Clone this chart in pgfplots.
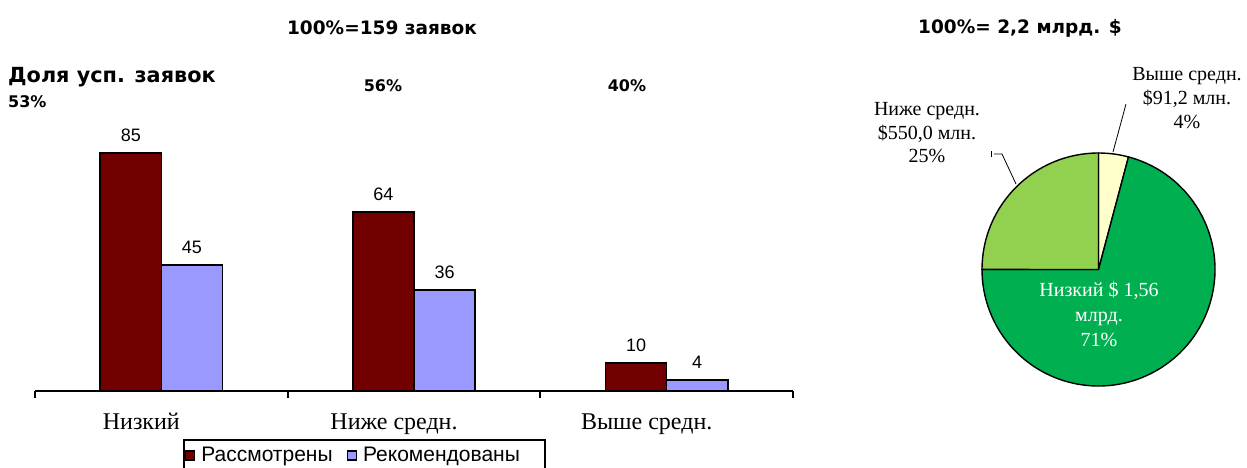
\documentclass[border=0pt]{standalone}
\usepackage{fontspec}
\setmainfont{Liberation Serif}
\newfontfamily\arial{Liberation Sans}
\newfontfamily\verd{DejaVu Sans}
\usepackage{pgfplots}
\pgfplotsset{compat=1.18}

\definecolor{barred}{HTML}{720000}
\definecolor{barblue}{HTML}{9999FF}
\definecolor{pielow}{HTML}{00B050}
\definecolor{piemid}{HTML}{92D050}
\definecolor{piehigh}{HTML}{FFFFCC}

\newcommand\fs[2]{\fontsize{#1}{#2}\selectfont}

% pie values, millions of dollars
\def\vLow{1560}
\def\vMid{550}
\def\vHigh{91.2}
\pgfmathsetmacro\vTotal{\vLow+\vMid+\vHigh}
\pgfmathsetmacro\aHigh{90-360*(\vHigh/\vTotal)}
\pgfmathsetmacro\aLow{\aHigh-360*(\vLow/\vTotal)}
\pgfmathsetmacro\aMid{\aLow-360*(\vMid/\vTotal)}

\begin{document}
\begin{tikzpicture}
\useasboundingbox (0pt,0pt) rectangle (1247pt,-467pt);
\clip (0pt,0pt) rectangle (1247pt,-467pt);

% bar chart: applications by group
\begin{axis}[
  at={(35pt,-391pt)}, anchor=south west,
  scale only axis, width=758pt, height=280pt,
  xmin=-0.5, xmax=2.5, ymin=0, ymax=100,
  axis x line*=bottom, axis y line=none,
  x axis line style={line width=2pt, -},
  xtick={0,1,2},
  xticklabels={Низкий, Ниже средн., Выше средн.},
  major tick length=0pt,
  xticklabel style={font=\fs{24pt}{28pt}, anchor=base, xshift=-20pt, yshift=-38pt},
  extra x ticks={-0.5,0.5,1.5,2.5}, extra x tick labels={},
  extra x tick style={major tick length=7pt, tick align=outside,
    tick style={line width=2pt, black}},
  ytick=\empty,
  ybar=0pt, bar width=0.242,
  /pgf/number format/assume math mode=true,
  nodes near coords,
  every node near coord/.append style={font=\arial\fs{18pt}{20pt}, text=black, yshift=7pt},
  legend columns=2,
  legend style={at={(0.195,-0.171)}, anchor=north west, draw=black,
    line width=2pt, font=\arial\fs{21pt}{22pt}, inner xsep=1pt, inner ysep=5.5pt,
    /tikz/every even column/.append style={column sep=12pt}},
  every axis plot post/.append style={
    legend image code/.code={\draw[#1, draw=black, line width=1.5pt] (0pt,-4.5pt) rectangle (9pt,4.5pt); \path (13pt,0pt);}},
]
\addplot[fill=barred, draw=black, line width=1.5pt] coordinates {(0,85) (1,64) (2,10)};
\addplot[fill=barblue, draw=black, line width=1.5pt] coordinates {(0,45) (1,36) (2,4)};
\legend{Рассмотрены, Рекомендованы\hspace*{22pt}\mbox{}}
\end{axis}

% pie chart: amount by group
\begin{axis}[
  at={(1098.5pt,-269.5pt)}, anchor=center,
  scale only axis, width=233pt, height=233pt,
  xmin=-1, xmax=1, ymin=-1, ymax=1,
  hide axis, clip=false,
]
\filldraw[fill=piehigh, draw=black, line width=1.4pt]
  (axis cs:0,0) -- (axis cs:0,1) arc[start angle=90, end angle=\aHigh, radius=116.5pt] -- cycle;
\filldraw[fill=pielow, draw=black, line width=1.4pt]
  (axis cs:0,0) -- (axis cs:{cos(\aHigh)},{sin(\aHigh)}) arc[start angle=\aHigh, end angle=\aLow, radius=116.5pt] -- cycle;
\filldraw[fill=piemid, draw=black, line width=1.4pt]
  (axis cs:0,0) -- (axis cs:{cos(\aLow)},{sin(\aLow)}) arc[start angle=\aLow, end angle=\aMid, radius=116.5pt] -- cycle;
\end{axis}

% titles and shares
\node[font=\verd\bfseries\fs{18.5pt}{22pt}] at (382pt,-28pt) {100\%=159 заявок};
\node[font=\verd\bfseries\fs{18.5pt}{22pt}] at (1020pt,-28pt) {100\%= 2,2 млрд. \$};
\node[font=\verd\bfseries\fs{20.8pt}{24pt}, anchor=base west, inner sep=0pt] at (8pt,-82pt) {Доля усп. заявок};
\node[font=\verd\bfseries\fs{16pt}{19pt}, anchor=west, inner sep=0pt] at (8pt,-102pt) {53\%};
\node[font=\verd\bfseries\fs{16pt}{19pt}] at (383pt,-86pt) {56\%};
\node[font=\verd\bfseries\fs{16pt}{19pt}] at (627pt,-86pt) {40\%};

% pie labels
\node[align=center, font=\fs{20pt}{24pt}] at (1187pt,-98pt) {Выше средн.\\\$91,2 млн.\\4\%};
\node[align=center, font=\fs{20pt}{23.5pt}] at (927pt,-133pt) {Ниже средн.\\\$550,0 млн.\\25\%};
\node[align=center, text=white, font=\fs{20pt}{25pt}] at (1099pt,-314pt) {Низкий \$ 1,56\\млрд.\\71\%};
\draw[line width=0.8pt] (1126pt,-104pt) -- (1113pt,-152pt);
\draw[line width=0.8pt] (991pt,-151pt) -- (991pt,-157pt);
\draw[line width=0.8pt] (994pt,-154pt) -- (1002pt,-154pt) -- (1016pt,-184pt);
\end{tikzpicture}
\end{document}
